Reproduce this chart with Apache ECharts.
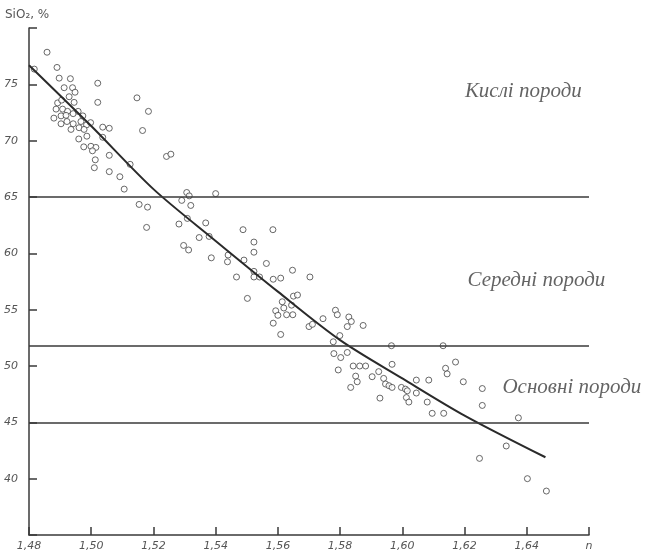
<!DOCTYPE html>
<html>
<head>
<meta charset="utf-8">
<script src="https://cdn.jsdelivr.net/npm/echarts@6/dist/echarts.min.js"></script>
<style>html,body{margin:0;padding:0;background:#fff}#c{width:645px;height:557px}</style>
</head>
<body>
<div id="c"></div>
<script>
// [n, SiO2 %] measurements
var acidPoints = [
  [1.4858,77.85],[1.4817,76.35],[1.4890,76.5],[1.4897,75.55],[1.4933,75.5],[1.4913,74.7],[1.4940,74.7],
  [1.4948,74.3],[1.4929,73.9],[1.5021,75.1],[1.5021,73.4],[1.4892,73.35],[1.4905,73.6],[1.4945,73.4],
  [1.4887,72.8],[1.4908,72.8],[1.4924,72.6],[1.4880,72.0],[1.4903,72.2],[1.4919,72.25],[1.4942,72.4],
  [1.4958,72.6],[1.4973,72.2],[1.4903,71.5],[1.4922,71.7],[1.4942,71.5],[1.4967,71.7],[1.4985,71.4],
  [1.4998,71.6],[1.4935,71.0],[1.4961,71.15],[1.4977,71.0],[1.5037,71.2],[1.5058,71.1],[1.4960,70.15],
  [1.4986,70.4],[1.5037,70.3],[1.4976,69.45],[1.4999,69.5],[1.5015,69.4],[1.5004,69.1],[1.5013,68.3],
  [1.5058,68.7],[1.5010,67.6],[1.5058,67.25],[1.5092,66.8],[1.5125,67.9],[1.5106,65.7],[1.5147,73.8],
  [1.5184,72.6],[1.5165,70.9],[1.5242,68.6],[1.5256,68.8],[1.5400,65.3]
];
var intermediatePoints = [
  [1.5154,64.34],[1.5181,64.1],[1.5178,62.3],[1.5307,65.4],[1.5315,65.1],[1.5291,64.7],[1.5320,64.25],
  [1.5282,62.6],[1.5309,63.1],[1.5297,60.7],[1.5313,60.3],[1.5368,62.7],[1.5347,61.4],[1.5379,61.5],
  [1.5386,59.6],[1.5488,62.1],[1.5584,62.1],[1.5523,61.0],[1.5523,60.1],[1.5440,59.85],[1.5438,59.25],
  [1.5491,59.4],[1.5467,57.9],[1.5563,59.1],[1.5523,58.4],[1.5523,57.9],[1.5541,57.9],[1.5585,57.7],
  [1.5609,57.8],[1.5647,58.5],[1.5703,57.9],[1.5502,56.0],[1.5614,55.7],[1.5619,55.15],[1.5644,55.4],
  [1.5650,56.2],[1.5663,56.3],[1.5593,54.9],[1.5600,54.5],[1.5628,54.55],[1.5648,54.55],[1.5585,53.8],
  [1.5609,52.8],[1.5700,53.5],[1.5711,53.7],[1.5745,54.2],[1.5785,54.95],[1.5791,54.55],[1.5828,54.35],
  [1.5836,53.95],[1.5823,53.5],[1.5874,53.6],[1.5799,52.7],[1.5778,52.15]
];
var basicPoints = [
  [1.5780,51.1],[1.5823,51.2],[1.5802,50.75],[1.5965,51.8],[1.6131,51.8],[1.5794,49.65],[1.5842,50.0],
  [1.5863,50.0],[1.5882,50.0],[1.5967,50.15],[1.5924,49.5],[1.5850,49.1],[1.5855,48.6],[1.5903,49.05],
  [1.5940,48.9],[1.5946,48.4],[1.5957,48.25],[1.5967,48.1],[1.5834,48.1],[1.5997,48.1],[1.6010,47.95],
  [1.6016,47.8],[1.6045,48.75],[1.6085,48.75],[1.6045,47.6],[1.5928,47.15],[1.6013,47.2],[1.6021,46.8],
  [1.6139,49.8],[1.6144,49.3],[1.6171,50.35],[1.6080,46.8],[1.6096,45.8],[1.6133,45.8],[1.6196,48.6],
  [1.6257,48.0],[1.6257,46.5],[1.6248,41.8],[1.6334,42.9],[1.6373,45.4],[1.6402,40.0],[1.6463,38.9]
];
var trendLine = [[1.48,76.7],[1.50,71.3],[1.52,65.7],[1.54,61.1],[1.56,56.6],[1.58,52.3],[1.60,48.9],[1.62,45.6],[1.646,41.9]];
var boundaries = [65, 51.8, 45];
var zoneLabels = [
  {text: 'Кислі породи', n: 1.6389, v: 74.4},
  {text: 'Середні породи', n: 1.6431, v: 57.6},
  {text: 'Основні породи', n: 1.6545, v: 48.1}
];
var yAxisTitle = 'SiO₂, %';
var xAxisTitle = 'n';

var chart = echarts.init(document.getElementById('c'), null, {renderer: 'canvas'});
var ink = '#3a3a3a';
var pointStyle = {color: '#fff', borderColor: '#444', borderWidth: 1};
var scatterSeries = [acidPoints, intermediatePoints, basicPoints].map(function (d) {
  return {type: 'scatter', data: d, symbol: 'circle', symbolSize: 6, itemStyle: pointStyle, z: 3, silent: true};
});
var option = {
  backgroundColor: '#fff',
  animation: false,
  grid: {left: 29, right: 56, top: 28, bottom: 22},
  xAxis: {
    type: 'value', min: 1.48, max: 1.66, interval: 0.02,
    axisLine: {lineStyle: {color: ink, width: 1.5}},
    axisTick: {inside: true, length: 8, lineStyle: {color: ink, width: 1.5}},
    splitLine: {show: false},
    axisLabel: {
      color: '#555', fontSize: 11, fontStyle: 'italic', fontFamily: 'DejaVu Sans', margin: 6,
      formatter: function (v) {
        if (Math.abs(v - 1.66) < 1e-6) return xAxisTitle;
        return v.toFixed(2).replace('.', ',');
      }
    }
  },
  yAxis: {
    type: 'value', min: 35, max: 80, interval: 5,
    axisLine: {show: true, lineStyle: {color: ink, width: 1.5}},
    axisTick: {show: true, inside: true, length: 8, lineStyle: {color: ink, width: 1.5}},
    splitLine: {show: false},
    axisLabel: {
      color: '#555', fontSize: 11, fontStyle: 'italic', fontFamily: 'DejaVu Sans', margin: 11,
      formatter: function (v) { return (v === 35 || v === 80) ? '' : String(v); }
    }
  },
  series: scatterSeries.concat([
    {
      type: 'line', data: trendLine, smooth: 0.3, symbol: 'none', silent: true, z: 4,
      lineStyle: {color: '#2a2a2a', width: 2}
    },
    {
      type: 'line', data: [], silent: true,
      markLine: {
        silent: true, symbol: 'none', label: {show: false},
        lineStyle: {color: ink, width: 1.5, type: 'solid'},
        data: boundaries.map(function (b) { return {yAxis: b}; })
      }
    },
    {
      type: 'scatter', silent: true, symbolSize: 0, z: 5,
      data: zoneLabels.map(function (z) { return {value: [z.n, z.v], name: z.text}; }),
      label: {
        show: true, position: 'inside', formatter: '{b}',
        fontFamily: 'Liberation Serif', fontStyle: 'italic', fontSize: 21, color: '#3c3c3c'
      }
    }
  ]),
  graphic: [
    {type: 'text', left: 5, top: 9, style: {text: yAxisTitle, fontSize: 12, fontFamily: 'DejaVu Sans', fill: '#555'}}
  ]
};
chart.setOption(option);
</script>
</body>
</html>
